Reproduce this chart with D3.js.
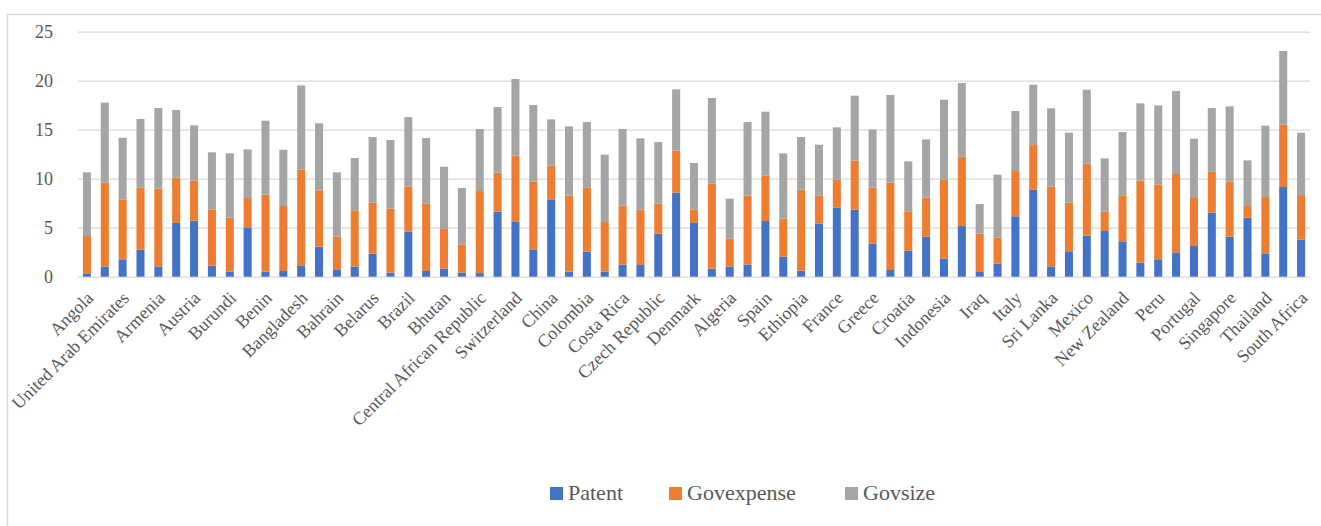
<!DOCTYPE html>
<html>
<head>
<meta charset="utf-8">
<script src="https://cdn.jsdelivr.net/npm/d3@7"></script>
<style>
  html, body { margin: 0; padding: 0; background: #fff; }
  svg { display: block; }
  text { font-family: "Palatino Linotype", "Book Antiqua", Palatino, "Liberation Serif", serif; fill: #595959; }
</style>
</head>
<body>
<svg id="chart" width="1321" height="526"></svg>
<script>
// Country labels (shown on every other category)
const countries = ["Angola","United Arab Emirates","Armenia","Austria","Burundi","Benin","Bangladesh","Bahrain","Belarus","Brazil","Bhutan","Central African Republic","Switzerland","China","Colombia","Costa Rica","Czech Republic","Denmark","Algeria","Spain","Ethiopia","France","Greece","Croatia","Indonesia","Iraq","Italy","Sri Lanka","Mexico","New Zealand","Peru","Portugal","Singapore","Thailand","South Africa"];

const seriesNames = ["Patent","Govexpense","Govsize"];

const patent = [0.34,1.02,1.77,2.76,1.05,5.48,5.71,1.12,0.51,5.03,0.51,0.58,1.16,3.06,0.75,1.02,2.35,0.41,4.59,0.58,0.82,0.41,0.37,6.63,5.65,2.79,7.89,0.51,2.55,0.51,1.22,1.19,4.39,8.57,5.48,0.82,1.02,1.22,5.68,2.04,0.61,5.41,7.04,6.84,3.37,0.68,2.65,4.08,1.84,5.17,0.48,1.33,6.16,8.88,1.05,2.59,4.18,4.66,3.61,1.43,1.77,2.48,3.13,6.53,4.08,6.02,2.38,9.15,3.78];

const govexpense = [3.81,8.57,6.12,6.32,7.96,4.62,4.12,5.75,5.51,3.00,7.86,6.63,9.79,5.75,3.33,5.75,5.20,6.53,4.63,6.90,4.08,2.89,8.37,3.98,6.70,6.90,3.44,7.76,6.53,5.07,6.02,5.65,3.06,4.29,1.39,8.70,2.86,7.05,4.63,3.88,8.27,2.86,2.89,5.00,5.71,8.91,4.02,3.98,8.02,7.07,3.91,2.68,4.62,4.56,8.13,4.96,7.35,1.97,4.69,8.37,7.65,8.00,4.90,4.18,5.61,1.19,5.75,6.36,4.55];

const govsize = [6.50,8.17,6.29,7.01,8.20,6.91,5.61,5.82,6.57,4.96,7.55,5.75,8.57,6.84,6.57,5.34,6.70,7.01,7.07,6.67,6.32,5.75,6.33,6.70,7.82,7.83,4.72,7.07,6.70,6.87,7.83,7.28,6.29,6.26,4.73,8.71,4.08,7.51,6.53,6.67,5.37,5.20,5.31,6.63,5.95,8.95,5.10,5.95,8.20,7.52,3.02,6.40,6.12,6.15,8.00,7.14,7.55,5.44,6.46,7.89,8.06,8.47,6.05,6.50,7.69,4.66,7.28,7.52,6.36];

const yTicks = [0,5,10,15,20,25];
const colors = ["#4472C4","#ED7D31","#A5A5A5"];

const svg = d3.select("#chart");
const W = 1321, H = 526;
const mLeft = 78, mRight = 1310, mTop = 31.7, mBottom = 276.7;
const FONT = '"Palatino Linotype","Book Antiqua",Palatino,"Liberation Serif",serif';

// chart border
svg.append("rect").attr("x", 7.5).attr("y", 14.5).attr("width", W).attr("height", H)
  .attr("fill", "none").attr("stroke", "#d9d9d9").attr("stroke-width", 1.5);

const n = patent.length;
const rows = d3.range(n).map(i => ({i, Patent: patent[i], Govexpense: govexpense[i], Govsize: govsize[i]}));

const x = d3.scaleBand().domain(d3.range(n)).range([mLeft, mRight]).paddingInner(0.55).paddingOuter(0.275);
const y = d3.scaleLinear().domain([0, 25]).range([mBottom, mTop]);

// gridlines
const grid = svg.append("g").attr("transform", `translate(${mLeft},0)`)
  .call(d3.axisLeft(y).tickValues(yTicks).tickSize(-(mRight - mLeft)).tickFormat(""));
grid.select(".domain").remove();
grid.selectAll(".tick line").attr("stroke", "#d9d9d9").attr("stroke-width", 1.3);

// y labels
const ya = svg.append("g").attr("transform", `translate(53,0)`)
  .call(d3.axisLeft(y).tickValues(yTicks).tickSize(0).tickPadding(0));
ya.select(".domain").remove();
ya.selectAll(".tick text").attr("font-size", "18px").attr("fill", "#595959").style("font-family", FONT);

// bars
const stack = d3.stack().keys(seriesNames)(rows);
svg.append("g").selectAll("g").data(stack).join("g")
  .attr("fill", (d, k) => colors[k])
  .selectAll("rect").data(d => d).join("rect")
  .attr("x", d => x(d.data.i))
  .attr("width", x.bandwidth())
  .attr("y", d => y(d[1]))
  .attr("height", d => y(d[0]) - y(d[1]));

// x axis labels (every other category)
const xa = svg.append("g").attr("transform", `translate(0,${mBottom})`)
  .call(d3.axisBottom(x).tickValues(d3.range(0, n, 2)).tickSize(0).tickFormat(i => countries[i / 2]));
xa.select(".domain").remove();
xa.selectAll(".tick text")
  .attr("font-size", "18px")
  .attr("fill", "#595959")
  .style("font-family", FONT)
  .attr("text-anchor", "end")
  .attr("x", 0).attr("y", 0).attr("dy", "0.35em")
  .attr("transform", "translate(3,18) rotate(-45)");

// legend
const legendX = [550, 669, 845];
const lg = svg.append("g").selectAll("g").data(seriesNames).join("g")
  .attr("transform", (d, k) => `translate(${legendX[k]},487)`);
lg.append("rect").attr("width", 13).attr("height", 13).attr("fill", (d, k) => colors[k]);
lg.append("text").attr("x", 18).attr("y", 13).attr("font-size", "22px").style("font-family", FONT).text(d => d);
</script>
</body>
</html>
